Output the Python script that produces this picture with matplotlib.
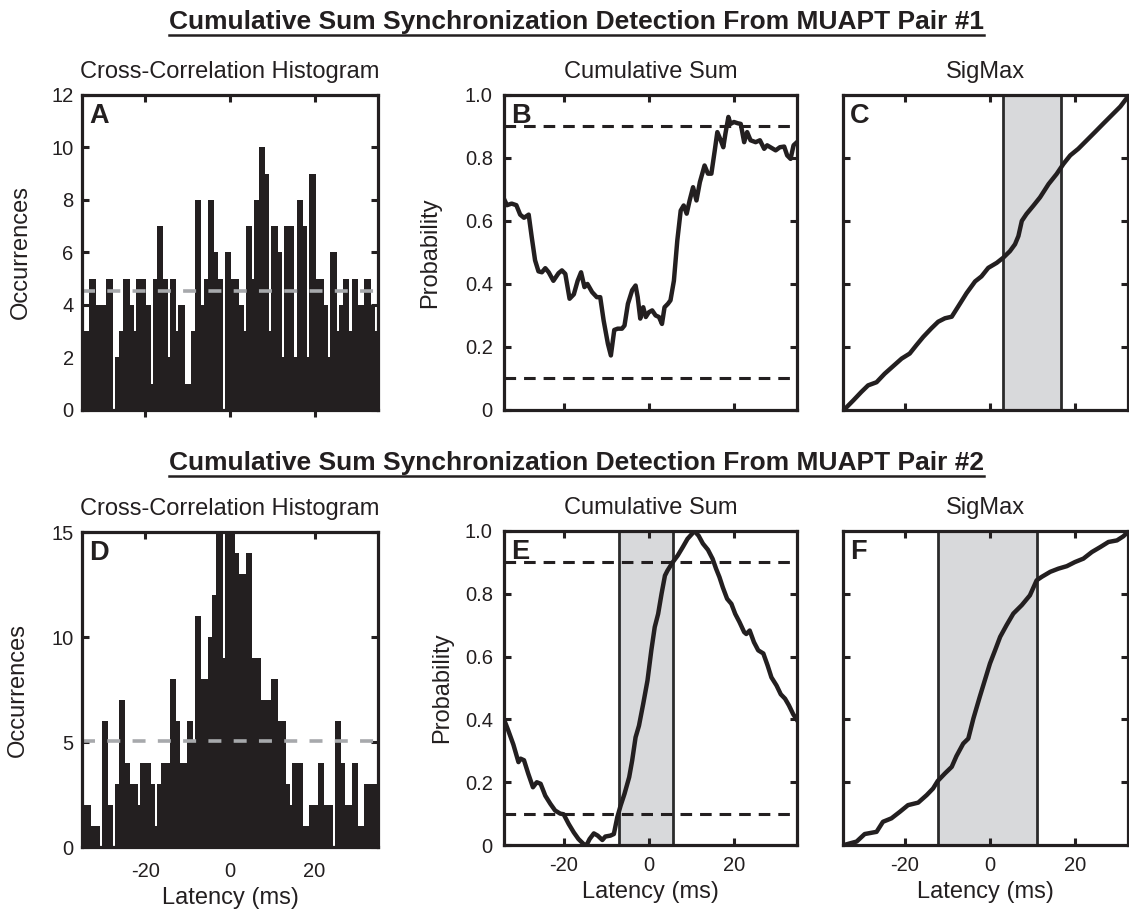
import numpy as np
import matplotlib
matplotlib.use("Agg")
import matplotlib.pyplot as plt
from matplotlib.lines import Line2D, TICKDOWN

plt.rcParams['font.family'] = ['Liberation Sans', 'DejaVu Sans']
plt.rcParams['axes.unicode_minus'] = False

INK = '#231f20'

# cross-correlation histograms, 1 ms bins centred on the half milliseconds
bin_centers = np.arange(-34.5, 35, 1.0)
counts_pair1 = [3, 3, 5, 4, 4, 4, 5, 0, 2, 3,
                5, 4, 3, 5, 5, 4, 1, 5, 7, 5,
                2, 5, 3, 4, 1, 1, 3, 8, 4, 5,
                8, 6, 5, 0, 6, 5, 5, 4, 3, 7,
                5, 8, 10, 9, 3, 7, 6, 2, 7, 7,
                2, 8, 7, 2, 9, 5, 5, 4, 2, 6,
                3, 4, 5, 3, 5, 4, 4, 5, 4, 3]
counts_pair2 = [2, 2, 1, 1, 0, 6, 2, 0, 3, 7,
                4, 3, 3, 2, 4, 4, 3, 1, 3, 4,
                4, 8, 6, 4, 4, 6, 5, 11, 8, 8,
                10, 12, 16, 9, 16, 16, 14, 13, 13, 14,
                9, 9, 7, 7, 7, 8, 6, 6, 3, 2,
                4, 4, 1, 1, 2, 2, 4, 2, 2, 0,
                6, 4, 2, 2, 4, 1, 1, 3, 3, 3]
mean_pair1 = 4.55
mean_pair2 = 5.05

# cumulative sum traces (latency in ms, probability)
cusum1_x = [-34.0, -33.3, -32.2, -31.1, -30.2, -29.3, -28.2, -27.5, -26.7, -25.9,
            -25.1, -24.3, -23.5, -22.4, -21.2, -20.4, -19.6, -18.6, -17.6, -16.7,
            -15.9, -15.1, -14.4, -13.3, -12.2, -11.4, -10.6, -9.6, -8.9, -8.1,
            -7.3, -6.3, -5.7, -4.9, -3.9, -3.1, -2.6, -2.0, -1.3, -0.7,
            0.0, 0.8, 1.6, 2.4, 3.1, 3.7, 4.5, 5.1, 5.9, 6.7,
            7.5, 8.2, 8.9, 9.6, 10.4, 11.2, 12.0, 13.1, 13.9, 14.7,
            15.5, 16.1, 16.9, 17.5, 18.0, 18.7, 19.2, 20.0, 20.9, 21.6,
            22.4, 23.1, 23.9, 25.1, 26.1, 27.1, 27.8, 28.8, 29.8, 30.8,
            31.8, 32.5, 33.3, 34.0, 34.8]
cusum1_y = [0.67, 0.65, 0.655, 0.65, 0.62, 0.61, 0.62, 0.55, 0.475, 0.44,
            0.437, 0.45, 0.437, 0.41, 0.434, 0.443, 0.432, 0.353, 0.367, 0.41,
            0.437, 0.39, 0.40, 0.374, 0.358, 0.358, 0.284, 0.21, 0.173, 0.254,
            0.258, 0.258, 0.268, 0.337, 0.38, 0.395, 0.358, 0.29, 0.326, 0.295,
            0.31, 0.316, 0.30, 0.295, 0.273, 0.326, 0.337, 0.348, 0.41, 0.538,
            0.633, 0.649, 0.623, 0.665, 0.707, 0.665, 0.723, 0.776, 0.75, 0.75,
            0.824, 0.882, 0.856, 0.834, 0.877, 0.93, 0.908, 0.914, 0.91, 0.908,
            0.85, 0.882, 0.856, 0.85, 0.856, 0.829, 0.84, 0.832, 0.824, 0.834,
            0.836, 0.808, 0.797, 0.84, 0.85]

cusum2_x = [-34.0, -33.0, -31.8, -30.6, -30.1, -29.3, -28.3, -27.2, -26.3, -25.4,
            -24.3, -23.1, -22.0, -20.8, -20.0, -18.8, -17.6, -16.5, -15.3, -14.6,
            -13.9, -12.9, -12.0, -10.9, -10.2, -9.0, -8.2, -7.4, -6.6, -5.7,
            -4.6, -3.9, -3.1, -2.3, -1.3, -0.3, 0.6, 1.4, 2.2, 3.0,
            3.8, 4.4, 5.6, 6.8, 8.0, 9.1, 10.1, 10.7, 11.7, 12.7,
            13.9, 15.0, 15.8, 16.6, 17.4, 18.4, 19.4, 20.3, 21.3, 22.4,
            22.9, 23.7, 24.7, 25.7, 26.9, 27.9, 28.8, 30.0, 31.0, 32.0,
            32.9, 33.9, 34.8]
cusum2_y = [0.40, 0.365, 0.32, 0.264, 0.275, 0.27, 0.227, 0.184, 0.20, 0.195,
            0.157, 0.131, 0.11, 0.10, 0.098, 0.067, 0.04, 0.019, 0.003, 0.0,
            0.019, 0.037, 0.03, 0.016, 0.027, 0.03, 0.035, 0.088, 0.126, 0.163,
            0.216, 0.269, 0.343, 0.38, 0.45, 0.524, 0.62, 0.694, 0.736, 0.80,
            0.858, 0.874, 0.90, 0.922, 0.949, 0.975, 0.99, 1.0, 0.985, 0.96,
            0.94, 0.911, 0.88, 0.853, 0.82, 0.784, 0.768, 0.736, 0.71, 0.678,
            0.672, 0.683, 0.646, 0.62, 0.61, 0.572, 0.534, 0.508, 0.48, 0.466,
            0.445, 0.417, 0.398]
cusum2_window = (-7.0, 5.6)

# SigMax traces
sig1_x = [-34.4, -32.2, -30.3, -28.7, -26.7, -24.8, -22.8, -20.8, -18.9, -17.3,
          -15.7, -13.8, -12.2, -10.6, -9.0, -7.5, -5.5, -3.5, -2.0, -0.4,
          1.6, 3.1, 4.7, 5.9, 6.7, 7.5, 8.6, 10.2, 11.8, 13.8,
          15.7, 17.3, 18.9, 20.8, 22.8, 24.8, 26.7, 28.7, 30.7, 32.5]
sig1_y = [0.0, 0.030, 0.057, 0.078, 0.088, 0.115, 0.139, 0.163, 0.179, 0.206,
          0.232, 0.259, 0.280, 0.291, 0.296, 0.328, 0.371, 0.408, 0.424, 0.451,
          0.467, 0.483, 0.504, 0.526, 0.552, 0.600, 0.622, 0.648, 0.675, 0.717,
          0.749, 0.781, 0.808, 0.829, 0.856, 0.883, 0.909, 0.936, 0.963, 0.995]
sig1_window = (3.1, 16.7)

sig2_x = [-34.4, -31.4, -29.5, -26.7, -25.2, -23.2, -21.2, -19.3, -16.9, -14.9,
          -13.4, -12.3, -10.6, -9.0, -7.9, -6.3, -5.1, -3.9, -2.4, -1.2,
          0.0, 1.2, 2.4, 3.9, 5.5, 7.5, 9.4, 11.0, 12.2, 14.2,
          16.1, 18.1, 20.0, 22.0, 24.0, 26.0, 27.9, 29.9, 31.4, 32.5]
sig2_y = [0.0, 0.011, 0.035, 0.042, 0.074, 0.085, 0.106, 0.127, 0.135, 0.159,
          0.180, 0.204, 0.228, 0.249, 0.283, 0.323, 0.339, 0.403, 0.472, 0.525,
          0.578, 0.620, 0.663, 0.700, 0.737, 0.764, 0.795, 0.843, 0.854, 0.870,
          0.880, 0.888, 0.901, 0.912, 0.933, 0.949, 0.965, 0.970, 0.983, 0.997]
sig2_window = (-12.3, 11.0)

lat_ticks = [-20, 0, 20]
prob_ticks = [0, 0.2, 0.4, 0.6, 0.8, 1.0]
prob_labels = ['0', '0.2', '0.4', '0.6', '0.8', '1.0']

fig = plt.figure(figsize=(11.29, 9.10), dpi=100)

# axes boxes in figure fractions: (left, width) per column, (bottom, height) per row
cols = [(0.0726, 0.2622), (0.4464, 0.2595), (0.7467, 0.2524)]
rows = [(0.5495, 0.3462), (0.0714, 0.3451)]
letters = ['A', 'B', 'C', 'D', 'E', 'F']
axes = []
for r, (bot, h) in enumerate(rows):
    for c, (left, w) in enumerate(cols):
        if r == 1 and c == 0:
            ax = fig.add_axes([left, bot - 0.0022, w, h + 0.001])
        else:
            ax = fig.add_axes([left, bot, w, h])
        axes.append(ax)

def style(ax, letter):
    for s in ax.spines.values():
        s.set_linewidth(2.3)
        s.set_color(INK)
    ax.tick_params(direction='in', top=True, right=True, length=5, width=2.2,
                   colors=INK, labelsize=14.5, pad=8)
    ax.annotate(letter, xy=(0, 1), xycoords='axes fraction', xytext=(7, -28),
                textcoords='offset pixels', ha='left', va='baseline',
                fontsize=19.5, fontweight='bold', color=INK, zorder=5)

def hist_panel(ax, counts, mean, ymax, yticks):
    ax.bar(bin_centers, counts, width=1.5, color=INK, linewidth=0, zorder=1)
    ax.axhline(mean, color='#a7a9ac', lw=2.6, linestyle=(0, (3.6, 3.4)), zorder=2)
    ax.set_xlim(-35, 35)
    ax.set_ylim(0, ymax)
    ax.set_yticks(yticks)
    ax.set_xticks(lat_ticks)
    ax.set_title('Cross-Correlation Histogram', fontsize=17, color=INK, pad=12)
    ax.set_ylabel('Occurrences', fontsize=17, color=INK)

def cusum_panel(ax, xs, ys):
    ax.plot(xs, ys, color=INK, lw=3.2, solid_joinstyle='round', zorder=3)
    for lvl in (0.1, 0.9):
        ax.axhline(lvl, color=INK, lw=2.2, linestyle=(0, (3.8, 2.6)), zorder=2)
    ax.set_xlim(-34, 34.8)
    ax.set_ylim(0, 1)
    ax.set_yticks(prob_ticks)
    ax.set_yticklabels(prob_labels)
    ax.set_xticks(lat_ticks)
    ax.set_title('Cumulative Sum', fontsize=17, color=INK, pad=12)
    ax.set_ylabel('Probability', fontsize=17, color=INK)

def shade(ax, window):
    ax.axvspan(window[0], window[1], facecolor='#d8d9db', edgecolor='#2b2b2b',
               lw=2.0, zorder=1)

def sigmax_panel(ax, xs, ys, window):
    shade(ax, window)
    ax.plot(xs, ys, color=INK, lw=3.2, zorder=3)
    ax.set_xlim(-34.6, 32.5)
    ax.set_ylim(0, 1)
    ax.set_yticks([0.2, 0.4, 0.6, 0.8])
    ax.set_yticklabels([])
    ax.set_xticks(lat_ticks)
    ax.set_title('SigMax', fontsize=17, color=INK, pad=12)

axA, axB, axC, axD, axE, axF = axes

hist_panel(axA, counts_pair1, mean_pair1, 12, range(0, 13, 2))
hist_panel(axD, counts_pair2, mean_pair2, 15, [0, 5, 10, 15])
cusum_panel(axB, cusum1_x, cusum1_y)
cusum_panel(axE, cusum2_x, cusum2_y)
shade(axE, cusum2_window)
sigmax_panel(axC, sig1_x, sig1_y, sig1_window)
sigmax_panel(axF, sig2_x, sig2_y, sig2_window)

for ax, letter in zip(axes, letters):
    style(ax, letter)

# histogram panels: bottom ticks point outward, below the bars
for ax in (axA, axD):
    ax.tick_params(axis='y', pad=6)
    for t in ax.xaxis.get_major_ticks():
        t.tick1line.set_marker(TICKDOWN)

# top row carries no latency labels
for ax in (axA, axB, axC):
    ax.set_xticklabels([])

for ax in (axD, axE, axF):
    ax.set_xlabel('Latency (ms)', fontsize=17, color=INK, labelpad=4)
axD.tick_params(axis='x', pad=11)

axA.yaxis.set_label_coords(-0.17, 0.5)
axD.yaxis.set_label_coords(-0.18, 0.5)
axB.yaxis.set_label_coords(-0.215, 0.5)
axE.yaxis.set_label_coords(-0.175, 0.5)

titles = []
for y, txt in [(0.968, 'Cumulative Sum Synchronization Detection From MUAPT Pair #1'),
               (0.4835, 'Cumulative Sum Synchronization Detection From MUAPT Pair #2')]:
    t = fig.text(0.511, y, txt, ha='center', va='baseline', fontsize=19,
                 fontweight='bold', color=INK)
    titles.append(t)

# underline the row headings
fig.canvas.draw()
W, H = fig.bbox.width, fig.bbox.height
for t in titles:
    bb = t.get_window_extent()
    yl = (bb.y0 - 1) / H
    fig.add_artist(Line2D([bb.x0 / W, bb.x1 / W], [yl, yl], color=INK, lw=1.8))

fig.savefig('out.png', dpi=100, facecolor='white')
